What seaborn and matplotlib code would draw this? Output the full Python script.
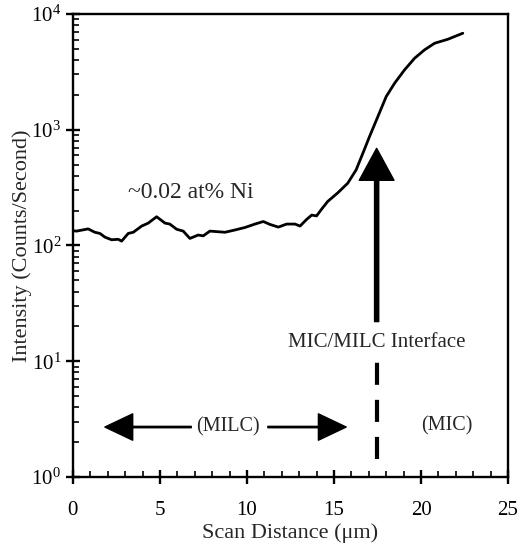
#!/usr/bin/env python3

import matplotlib

matplotlib.use("Agg")
import matplotlib.pyplot as plt
import matplotlib.ticker as mticker
import pandas
import seaborn as sns

# Ni line scan
scan_distance = [0.0, 0.21, 0.88, 1.26, 1.55, 1.84, 2.22, 2.6, 2.8, 3.18, 3.47,
                 3.95, 4.33, 4.81, 5.29, 5.57, 5.96, 6.34, 6.72, 7.2, 7.49,
                 7.87, 8.16, 8.74, 9.31, 9.89, 10.46, 10.94, 11.32, 11.8,
                 12.28, 12.76, 13.05, 13.43, 13.72, 14.0, 14.29, 14.64, 15.22,
                 15.79, 16.27, 16.66, 17.04, 17.52, 18.0, 18.48, 19.05, 19.63,
                 20.2, 20.78, 21.54, 22.4]
intensity = [134, 133, 139, 130, 127, 118, 112, 113, 109, 127, 130,
             147, 156, 177, 156, 153, 138, 133, 115, 123, 121,
             133, 132, 130, 136, 143, 153, 161, 152, 144,
             153, 153, 147, 168, 183, 180, 206, 240, 285,
             345, 449, 626, 871, 1297, 1933, 2518, 3281, 4140,
             4890, 5580, 6040, 6810]

interface_x = 17.45
x_ticks = [0, 5, 10, 15, 20, 25]


def main():
    df = pandas.DataFrame({"distance": scan_distance, "intensity": intensity})

    sns.set_style("ticks")
    plt.rcParams["font.family"] = ["Liberation Serif", "DejaVu Serif"]
    plt.rcParams["mathtext.fontset"] = "stix"

    fig = plt.figure(figsize=(5.32, 5.48), dpi=100)
    ax = fig.add_axes([0.137, 0.1296, 0.818, 0.845])

    sns.lineplot(data=df, x="distance", y="intensity", color="black", lw=2.0, ax=ax)

    ax.set_yscale("log")
    ax.set_xlim(0, 25)
    ax.set_ylim(1, 1e4)
    ax.set_xticks(x_ticks)
    ax.xaxis.set_minor_locator(mticker.MultipleLocator(1))
    ax.yaxis.set_major_locator(mticker.LogLocator(base=10, numticks=10))
    ax.yaxis.set_minor_locator(mticker.LogLocator(base=10, subs=range(2, 10), numticks=10))
    ax.yaxis.set_minor_formatter(mticker.NullFormatter())

    for side in ["left", "right", "top", "bottom"]:
        ax.spines[side].set_linewidth(1.7)
        ax.spines[side].set_color("black")
    ax.tick_params(which="major", direction="inout", length=10, width=1.7,
                   labelsize=15, colors="black")
    ax.tick_params(axis="x", which="major", pad=12)
    ax.tick_params(which="minor", direction="in", length=4, width=1.4)

    ax.set_xlabel("Scan Distance (\u03bcm)", fontsize=16)
    ax.set_ylabel("Intensity (Counts/Second)", fontsize=16)
    ax.xaxis.set_label_coords(0.5, -0.1)
    ax.yaxis.set_label_coords(-0.094, 0.5)

    # interface arrow
    ax.annotate("", xy=(interface_x, 690), xytext=(interface_x, 22),
                arrowprops=dict(width=3, headwidth=25, headlength=23,
                                facecolor="black", edgecolor="black"))
    ax.text(interface_x, 14.5, "MIC/MILC Interface", ha="center", va="center",
            fontsize=15)
    ax.plot([interface_x, interface_x], [1.43, 9.8], color="black", lw=3,
            ls=(0, (5.3, 3.6)), solid_capstyle="butt")

    # region labels
    ax.text(8.9, 2.7, "(MILC)", ha="center", va="center", fontsize=14.5)
    ax.annotate("", xy=(1.84, 2.7), xytext=(6.8, 2.7),
                arrowprops=dict(width=1.0, headwidth=19, headlength=20,
                                facecolor="black", edgecolor="black"))
    ax.annotate("", xy=(15.7, 2.7), xytext=(11.2, 2.7),
                arrowprops=dict(width=1.0, headwidth=19, headlength=20,
                                facecolor="black", edgecolor="black"))
    ax.text(21.5, 2.75, "(MIC)", ha="center", va="center", fontsize=14.5)
    ax.text(6.8, 284, "~0.02 at% Ni", ha="center", va="center", fontsize=17)

    fig.savefig("out.png", dpi=100)


if __name__ == "__main__":
    main()
